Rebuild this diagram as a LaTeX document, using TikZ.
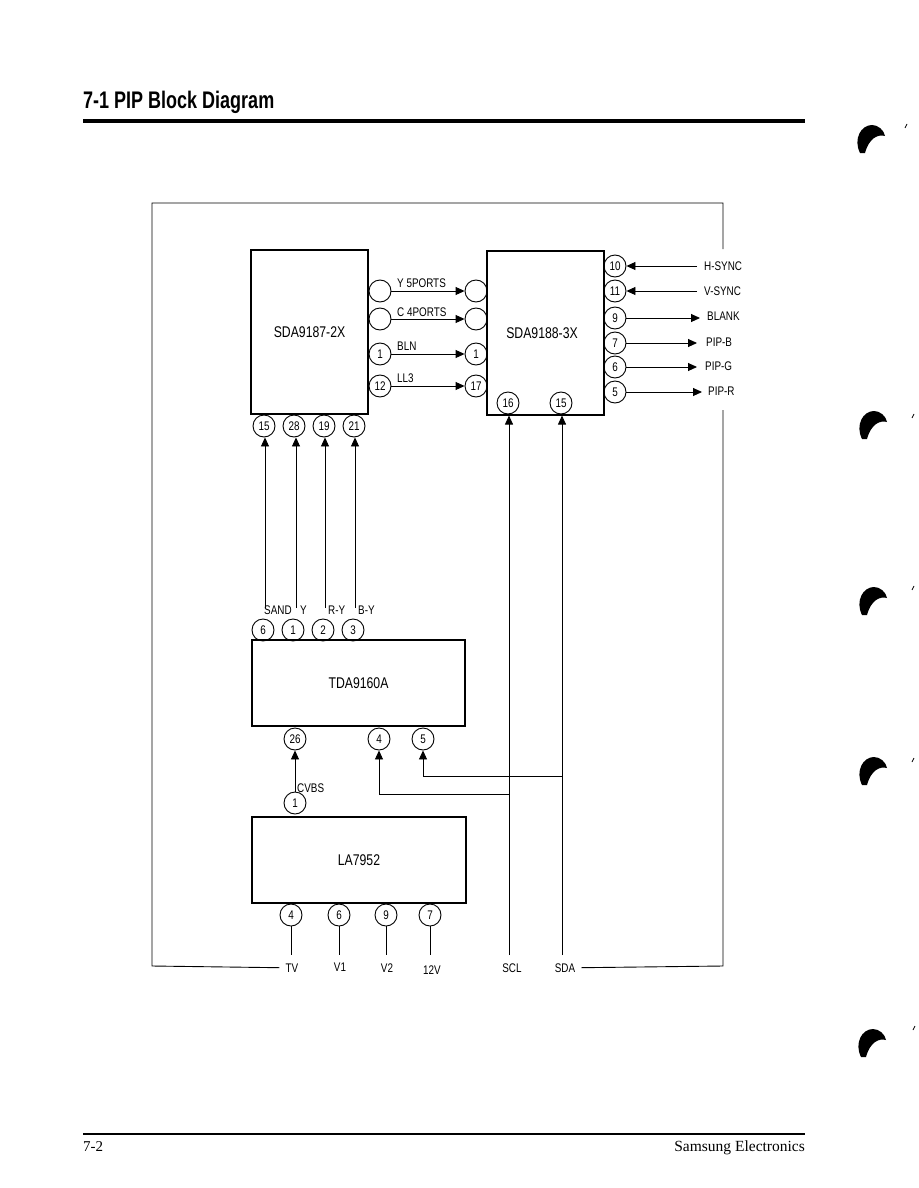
\documentclass[tikz,border=0pt]{standalone}
\usepackage{fontspec}
\usetikzlibrary{arrows.meta}
\newfontfamily\dfont[FakeStretch=0.79]{Liberation Sans}
\newfontfamily\tfont[FakeStretch=0.75]{Liberation Sans}
\newfontfamily\sfont{Liberation Serif}
\tikzset{
 chip/.style={draw, line width=1.1pt, inner sep=0, font=\dfont\fontsize{15.5}{16}\selectfont},
 pin/.style={draw, circle, line width=0.9pt, minimum size=22pt, inner sep=0, font=\dfont\fontsize{12.5}{13}\selectfont},
 lbl/.style={inner sep=0, font=\dfont\fontsize{12.5}{13}\selectfont},
 wire/.style={line width=0.9pt},
 arr/.style={wire, -{Triangle[length=9pt,width=8pt]}},
 blob/.style={fill=black},
}
\begin{document}
\begin{tikzpicture}[x=1pt,y=-1pt]
\useasboundingbox (0,0) rectangle (918,1188);
% title and rules
\node[anchor=base west, inner sep=0] (title) at (83,109) {\tfont\bfseries\fontsize{24}{26}\selectfont 7-1 PIP Block Diagram};
\draw[line width=3.5pt] (83,121) -- (805,121);
\draw[line width=2pt] (83,1134) -- (805,1134);
\node[anchor=base west, inner sep=0] (pg) at (83,1151) {\sfont\fontsize{15}{16}\selectfont 7-2};
\node[anchor=base east, inner sep=0] (brand) at (805,1151) {\sfont\fontsize{15.5}{16}\selectfont Samsung Electronics};

% chips
\node[chip, minimum width=117pt, minimum height=164pt] (sda87) at (309.5,332) {SDA9187-2X};
\node[chip, minimum width=117pt, minimum height=164pt] (sda88) at (545.5,333) {};
\node[font=\dfont\fontsize{15.5}{16}\selectfont, inner sep=0] (sda88t) at (542,333) {SDA9188-3X};
\node[chip, minimum width=213pt, minimum height=86pt] (tda) at (358.5,683) {TDA9160A};
\node[chip, minimum width=214pt, minimum height=86pt] (la) at (359,860) {LA7952};

% SDA9187 right pins and SDA9188 left pins
\node[pin] (a1) at (380,291) {};
\node[pin] (a2) at (380,319) {};
\node[pin] (a3) at (380,354) {1};
\node[pin] (a4) at (380,386) {12};
\node[pin] (b1) at (476,291) {};
\node[pin] (b2) at (476,319) {};
\node[pin] (b3) at (476,354) {1};
\node[pin] (b4) at (476,386) {17};
\draw[arr] (a1) -- (b1);
\draw[arr] (a2) -- (b2);
\draw[arr] (a3) -- (b3);
\draw[arr] (a4) -- (b4);
\node[lbl, anchor=base west] (ly) at (397,287) {Y 5PORTS};
\node[lbl, anchor=base west] (lc) at (397,316) {C 4PORTS};
\node[lbl, anchor=base west] (lb) at (397,350) {BLN};
\node[lbl, anchor=base west] (ll) at (397,382) {LL3};

% SDA9188 right pins
\node[pin] (r10) at (615,266) {10};
\node[pin] (r11) at (615,291) {11};
\node[pin] (r9) at (615,318) {9};
\node[pin] (r7) at (615,343) {7};
\node[pin] (r6) at (615,367) {6};
\node[pin] (r5) at (615,392) {5};
\node[lbl, anchor=west] (hs) at (704,266) {H-SYNC};
\node[lbl, anchor=west] (vs) at (704,291) {V-SYNC};
\node[lbl, anchor=west] (bl) at (707,316) {BLANK};
\node[lbl, anchor=west] (pb) at (706,342) {PIP-B};
\node[lbl, anchor=west] (pgg) at (705,366) {PIP-G};
\node[lbl, anchor=west] (pr) at (708,391) {PIP-R};
\draw[arr] ([xshift=-7pt]hs.west) -- (r10.east);
\draw[arr] ([xshift=-7pt]vs.west) -- (r11.east);
\draw[arr] (r9.east) -- ([xshift=-7pt]bl.west |- r9.east);
\draw[arr] (r7.east) -- ([xshift=-9pt]pb.west |- r7.east);
\draw[arr] (r6.east) -- ([xshift=-8pt]pgg.west |- r6.east);
\draw[arr] (r5.east) -- ([xshift=-6pt]pr.west |- r5.east);

% SDA9188 bottom pins
\node[pin] (p16) at (508,403) {16};
\node[pin] (p15) at (561,403) {15};

% SDA9187 bottom pins
\node[pin] (s15) at (264,426) {15};
\node[pin] (s28) at (294,426) {28};
\node[pin] (s19) at (324,426) {19};
\node[pin] (s21) at (354,426) {21};

% TDA top pins and labels
\node[pin] (t6) at (263,630) {6};
\node[pin] (t1) at (293,630) {1};
\node[pin] (t2) at (323,630) {2};
\node[pin] (t3) at (353,630) {3};
\node[lbl, anchor=base west] (lsand) at (264,614) {SAND};
\node[lbl, anchor=base west] (lyy) at (300,614) {Y};
\node[lbl, anchor=base west] (lry) at (328,614) {R-Y};
\node[lbl, anchor=base west] (lby) at (358,614) {B-Y};
\coordinate (e15) at (265,608);
\coordinate (e28) at (296,608);
\coordinate (e19) at (325,608);
\coordinate (e21) at (355,608);
\draw[arr] (e15) -- (e15 |- s15.south);
\draw[arr] (e28) -- (e28 |- s28.south);
\draw[arr] (e19) -- (e19 |- s19.south);
\draw[arr] (e21) -- (e21 |- s21.south);

% TDA bottom pins
\node[pin] (u26) at (295,739) {26};
\node[pin] (u4) at (379,739) {4};
\node[pin] (u5) at (423,739) {5};

% LA7952 pins
\node[pin] (v1) at (295,803) {1};
\draw[arr] (v1) -- (u26);
\node[lbl, anchor=west] (cvbs) at (297,788) {CVBS};
\node[pin] (w4) at (291,915) {4};
\node[pin] (w6) at (339,915) {6};
\node[pin] (w9) at (386,915) {9};
\node[pin] (w7) at (430,915) {7};

% bottom labels
\node[lbl, anchor=base] (tv) at (292,972) {TV};
\node[lbl, anchor=base] (lv1) at (340,971) {V1};
\node[lbl, anchor=base] (lv2) at (387,972) {V2};
\node[lbl, anchor=base] (l12) at (432,974) {12V};
\node[lbl, anchor=base] (scl) at (512,972) {SCL};
\node[lbl, anchor=base] (sda) at (565,972) {SDA};
\draw[wire] (w4.south) -- (w4.south |- 0,955);
\draw[wire] (w6.south) -- (w6.south |- 0,955);
\draw[wire] (w9.south) -- (w9.south |- 0,955);
\draw[wire] (w7.south) -- (w7.south |- 0,955);

% SCL / SDA bus
\coordinate (sclb) at (509,955);
\coordinate (sdab) at (562,955);
\draw[arr] (sclb) -- (sclb |- sda88.south);
\draw[arr] (sdab) -- (sdab |- sda88.south);
\coordinate (j4) at (509,794);
\coordinate (j5) at (562,776);
\draw[arr] (j4) -| (u4.south);
\draw[arr] (j5) -| (u5.south);

% outer loop
\draw[wire] ([xshift=-6pt]tv.west) -- (152,966) -- (152,203) -- (723,203) -- (723,249);
\draw[wire] (723,410) -- (723,966) -- ([xshift=6pt]sda.east);

% scan marks on right edge
\foreach \bx/\by in {856/124, 858/410, 858/586, 858/756, 857/1028}{
  \fill[blob, shift={(\bx,\by)}] (4,29) .. controls (-3,15) and (5,1) .. (16,1)
     .. controls (22,1) and (28,6) .. (29,12) .. controls (22,10) and (13,14) .. (9,29) -- cycle;
}
\foreach \bx/\by in {905/128, 912/418, 912/590, 912/762, 913/1030}{
  \draw[line width=0.8pt] (\bx,\by) -- ++(2,-4);
}
\end{tikzpicture}
\end{document}
